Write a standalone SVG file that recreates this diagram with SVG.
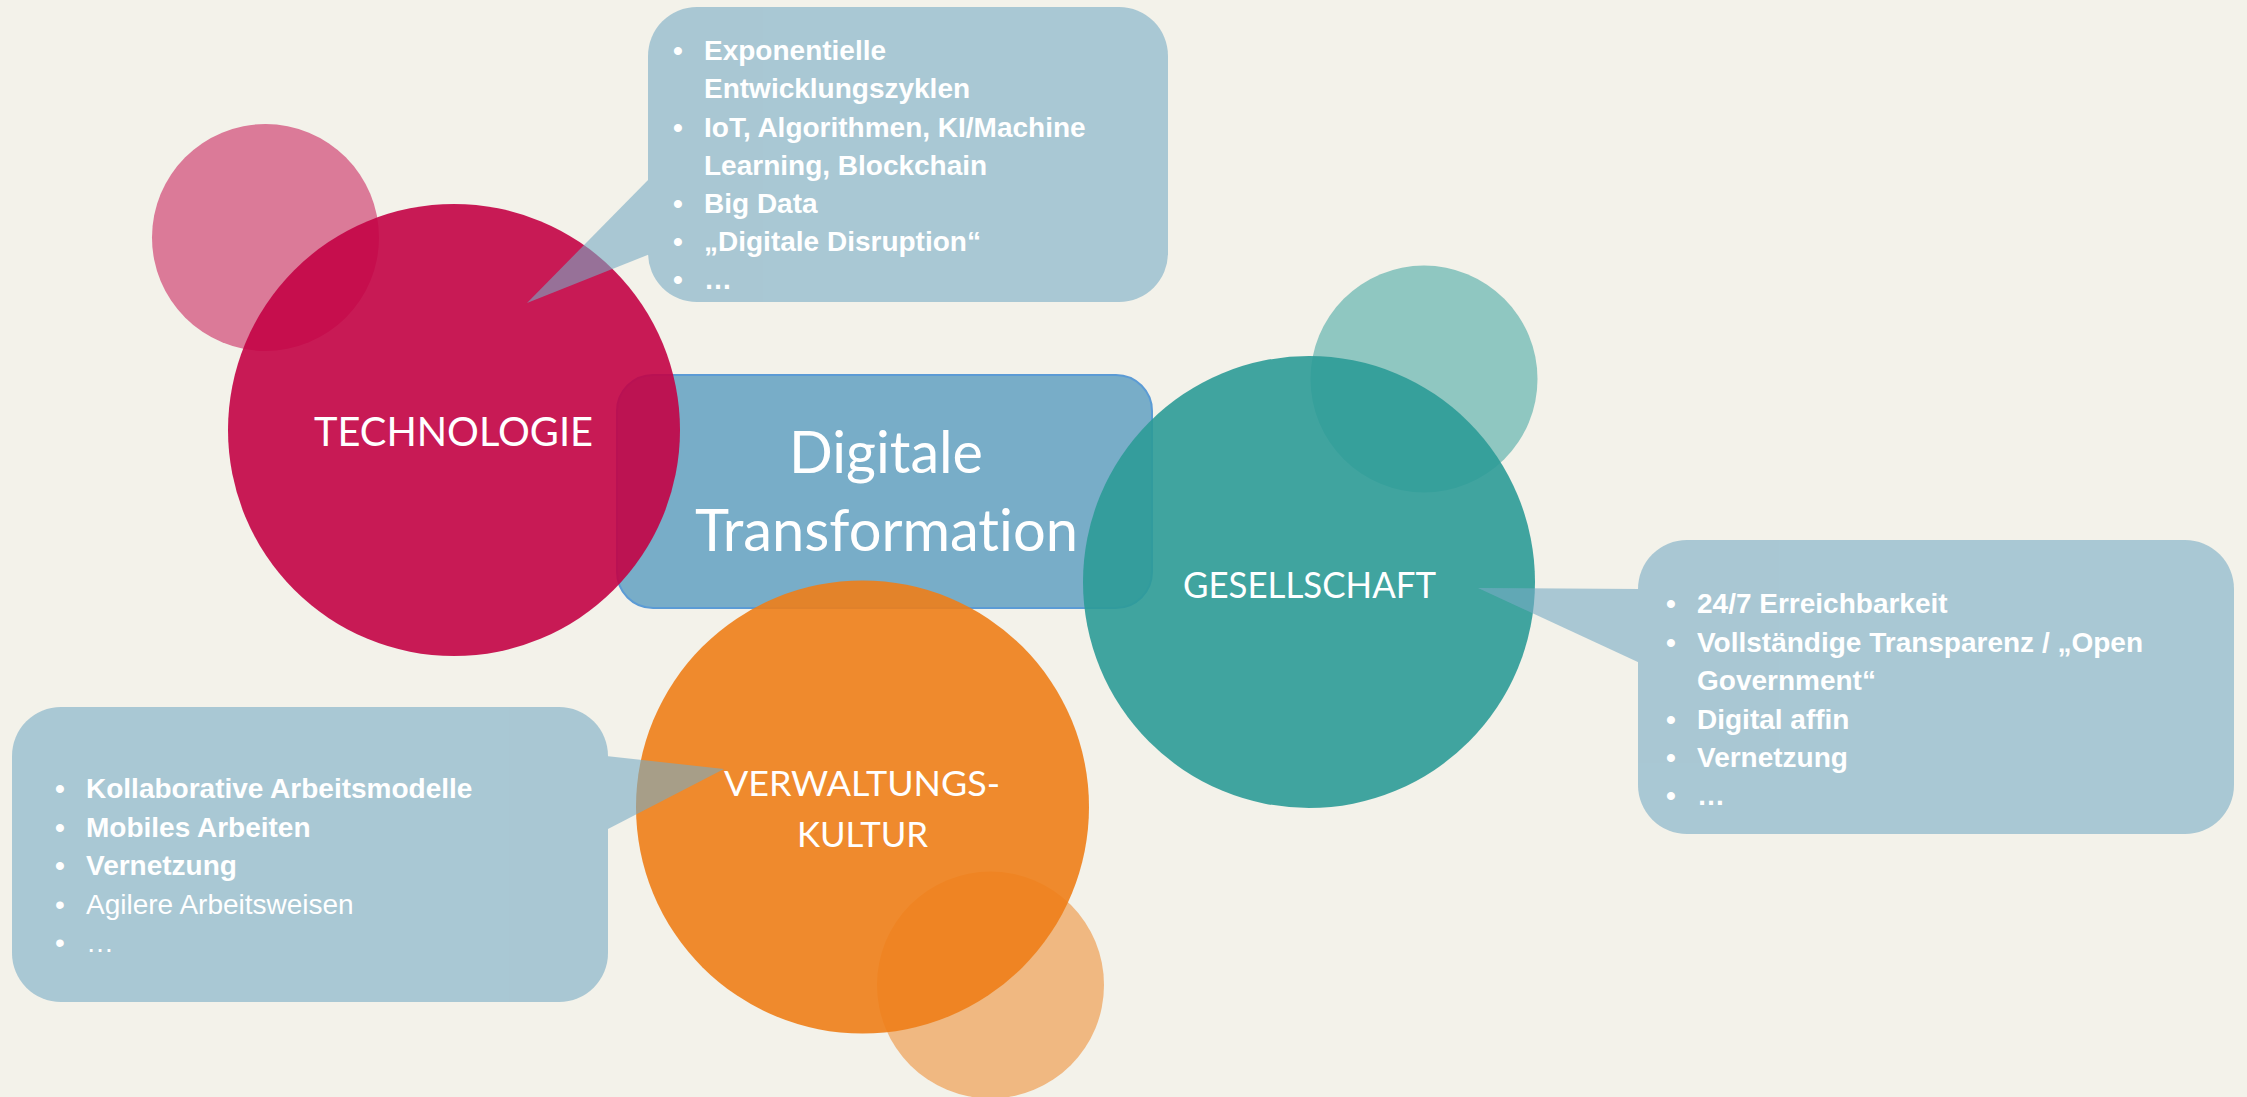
<svg xmlns="http://www.w3.org/2000/svg" width="2247" height="1097" viewBox="0 0 2247 1097">
<style>
.crim{fill:#C30245}
.teal{fill:#2C9B97}
.orng{fill:#EE7E18}
.big{opacity:0.9}
.small{opacity:0.5}
.lbl{font-family:Lato,"Liberation Sans",Arial,sans-serif;font-weight:normal;fill:#FFFFFF;text-anchor:middle;font-variant-ligatures:none}
.bub{fill:#78ACC5;opacity:0.6}
.bt{font-family:"Liberation Sans",Arial,sans-serif;font-size:28px;fill:#FFFFFF;font-weight:bold}
.reg{font-weight:normal}
</style>
<rect x="0" y="0" width="2247" height="1097" fill="#F3F2EA"/>

<g id="deko-kreise">
  <circle class="crim small" cx="265.5" cy="237.5" r="113.5"/>
  <circle class="teal small" cx="1424" cy="379" r="113.5"/>
  <circle class="orng small" cx="990.5" cy="985" r="113.5"/>
</g>

<g id="digitale-transformation">
  <rect x="617" y="375" width="535" height="233" rx="36" fill="#78ADC8" stroke="#5B9BD5" stroke-width="2"/>
  <text class="lbl" x="886" y="473" font-size="58" textLength="194" lengthAdjust="spacingAndGlyphs">Digitale</text>
  <text class="lbl" x="886.5" y="551" font-size="58" textLength="383" lengthAdjust="spacingAndGlyphs">Transformation</text>
</g>

<g id="technologie">
  <circle class="crim big" cx="454" cy="430" r="226"/>
  <text class="lbl" x="453.5" y="446" font-size="40" textLength="279" lengthAdjust="spacingAndGlyphs">TECHNOLOGIE</text>
</g>

<g id="gesellschaft">
  <circle class="teal big" cx="1309" cy="582" r="226"/>
  <text class="lbl" x="1309.5" y="598" font-size="36" textLength="253" lengthAdjust="spacingAndGlyphs">GESELLSCHAFT</text>
</g>

<g id="verwaltungskultur">
  <circle class="orng big" cx="862.5" cy="807" r="226.5"/>
  <text class="lbl" x="862" y="796" font-size="35" textLength="276" lengthAdjust="spacingAndGlyphs">VERWALTUNGS-</text>
  <text class="lbl" x="862.5" y="847" font-size="35" textLength="131" lengthAdjust="spacingAndGlyphs">KULTUR</text>
</g>

<g id="bubble-technologie">
  <g class="bub">
    <rect x="648" y="7" width="520" height="295" rx="49"/>
    <polygon points="650,178 527,303 650,254"/>
  </g>
  <text class="bt" x="673" y="60">•</text><text class="bt" x="704" y="60">Exponentielle</text>
  <text class="bt" x="704" y="98">Entwicklungszyklen</text>
  <text class="bt" x="673" y="136.5">•</text><text class="bt" x="704" y="136.5">IoT, Algorithmen, KI/Machine</text>
  <text class="bt" x="704" y="174.5">Learning, Blockchain</text>
  <text class="bt" x="673" y="213">•</text><text class="bt" x="704" y="213">Big Data</text>
  <text class="bt" x="673" y="251">•</text><text class="bt" x="704" y="251">„Digitale Disruption“</text>
  <text class="bt" x="673" y="289">•</text><text class="bt" x="704" y="289">…</text>
</g>

<g id="bubble-verwaltungskultur">
  <g class="bub">
    <rect x="12" y="707" width="596" height="295" rx="49"/>
    <polygon points="606,756 724,769 606,830"/>
  </g>
  <text class="bt" x="55" y="798">•</text><text class="bt" x="86" y="798">Kollaborative Arbeitsmodelle</text>
  <text class="bt" x="55" y="836.5">•</text><text class="bt" x="86" y="836.5">Mobiles Arbeiten</text>
  <text class="bt" x="55" y="875">•</text><text class="bt" x="86" y="875">Vernetzung</text>
  <text class="bt reg" x="55" y="913.5">•</text><text class="bt reg" x="86" y="913.5">Agilere Arbeitsweisen</text>
  <text class="bt reg" x="55" y="952">•</text><text class="bt reg" x="86" y="952">…</text>
</g>

<g id="bubble-gesellschaft">
  <g class="bub">
    <rect x="1638" y="540" width="596" height="294" rx="49"/>
    <polygon points="1640,589 1478,588 1640,663"/>
  </g>
  <text class="bt" x="1666" y="613">•</text><text class="bt" x="1697" y="613">24/7 Erreichbarkeit</text>
  <text class="bt" x="1666" y="651.5">•</text><text class="bt" x="1697" y="651.5">Vollständige Transparenz / „Open</text>
  <text class="bt" x="1697" y="690">Government“</text>
  <text class="bt" x="1666" y="728.5">•</text><text class="bt" x="1697" y="728.5">Digital affin</text>
  <text class="bt" x="1666" y="767">•</text><text class="bt" x="1697" y="767">Vernetzung</text>
  <text class="bt" x="1666" y="805">•</text><text class="bt" x="1697" y="805">…</text>
</g>
</svg>
